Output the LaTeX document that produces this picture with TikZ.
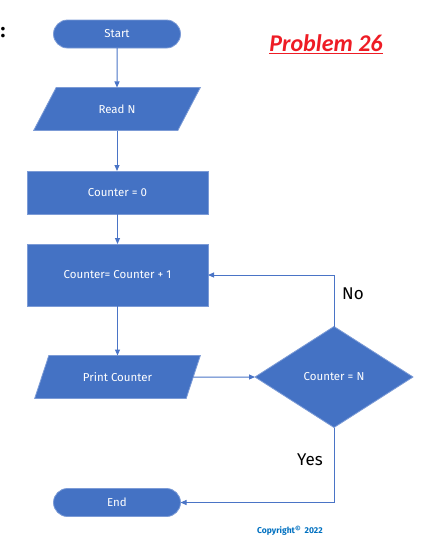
\documentclass[tikz,border=0pt]{standalone}
\usepackage{fontspec}
\setmainfont{Fira Sans}
\newfontfamily\titlefont{Carlito}
\usetikzlibrary{shapes.geometric,shapes.misc,arrows.meta,calc}
\definecolor{boxblue}{HTML}{4472C4}
\definecolor{edgeblue}{HTML}{7C9BD6}
\definecolor{lineblue}{HTML}{4A74C6}
\definecolor{copyblue}{HTML}{0070C0}
\definecolor{titlered}{HTML}{EE1C25}
\begin{document}
\begin{tikzpicture}[x=1pt,y=-1pt,
  every node/.style={inner sep=0pt,outer sep=0pt},
  shapebase/.style={fill=boxblue,draw=edgeblue,line width=0.8pt,text=white,font=\fontsize{11.5}{13}\selectfont},
  terminal/.style={shapebase,rounded rectangle,minimum width=127pt,minimum height=28pt},
  iobox/.style={shapebase,trapezium,trapezium left angle=52,trapezium right angle=128,trapezium stretches=true,minimum width=167pt,minimum height=43pt},
  procbox/.style={shapebase,rectangle,minimum width=181pt},
  decision/.style={shapebase,diamond,minimum width=158pt,minimum height=101pt},
  conn/.style={draw=lineblue,line width=1pt,-{Triangle[length=6pt,width=5pt]}},
  lbl/.style={font=\fontsize{17}{20}\selectfont,text=black}]
\useasboundingbox (0,0) rectangle (438,549);
\node (colon) at (3,33) {\fontsize{20}{24}\selectfont\bfseries :};
\node[terminal] (start) at (117,34) {Start};
\node[iobox] (readn) at (117,109) {Read N};
\node[procbox,minimum height=43pt] (c0) at (117.5,192.5) {Counter = 0};
\node[procbox,minimum height=62pt] (c1) at (117.5,275) {Counter= Counter + 1};
\node[iobox] (print) at (117.5,377) {Print Counter};
\node[decision] (test) at (334,377) {Counter = N};
\node[terminal] (end) at (117,502.5) {End};
\node (title) at (326,44) {\titlefont\fontsize{24}{28}\selectfont\color{titlered}\bfseries\itshape\underline{Problem 26}};
\node[lbl] (no) at (353,294) {No};
\node[lbl] (yes) at (310,460) {Yes};
\node (copy) at (290,531) {\fontsize{8.5}{10}\selectfont\bfseries\color{copyblue}Copyright\raisebox{0.35ex}{\fontsize{7}{8}\selectfont\textcopyright}\ \ 2022};
\draw[conn] (start) -- (readn);
\draw[conn] (readn.south) -- (c0.north -| readn.south);
\draw[conn] (c0) -- (c1);
\draw[conn] (c1.south) -- (print.north -| c1.south);
\draw[conn] (print.east) -- (test.west);
\draw[conn] (test.north) |- (c1.east);
\draw[conn] (test.south) |- (end.east);
\end{tikzpicture}
\end{document}
